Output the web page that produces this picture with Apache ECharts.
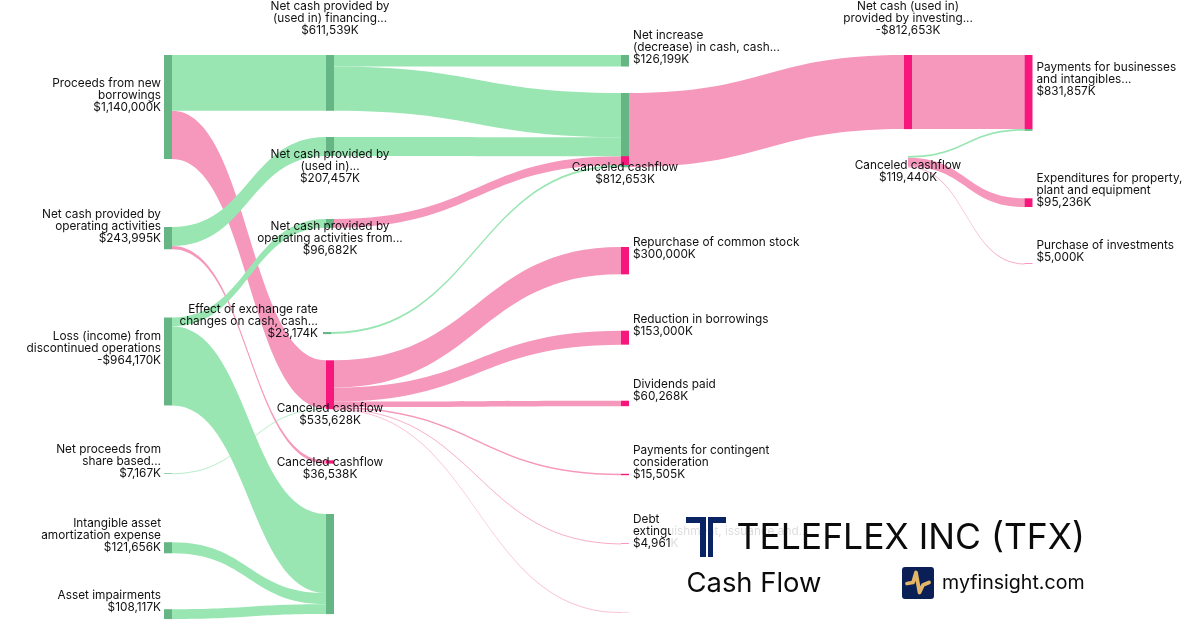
<!DOCTYPE html>
<html>
<head>
<meta charset="utf-8">
<style>html,body{margin:0;padding:0;background:#fff}#c{width:1200px;height:630px}</style>
<script src="https://cdn.jsdelivr.net/npm/echarts@6/dist/echarts.min.js"></script>
</head>
<body>
<div id="c"></div>
<script>
// --- data ---
const nodeIds = ['proceeds','operating','loss','share','intangible','impairments',
  'financing','usedIn','opFrom','effect','canceled535','canceled36','lossSink',
  'netIncrease','cashA','cashB','cashC','repurchase','reduction','dividends','contingent','debt','otherOut',
  'investing','canceled119',
  'payments','paymentsExtra','expenditures','purchase'];
const nodeNames = ['Proceeds from new\nborrowings','Net cash provided by\noperating activities','Loss (income) from\ndiscontinued operations','Net proceeds from\nshare based...','Intangible asset\namortization expense','Asset impairments',
  'Net cash provided by\n(used in) financing...','Net cash provided by\n(used in)...','Net cash provided by\noperating activities from...','Effect of exchange rate\nchanges on cash, cash...','Canceled cashflow','Canceled cashflow','',
  'Net increase\n(decrease) in cash, cash...','','Canceled cashflow','','Repurchase of common stock','Reduction in borrowings','Dividends paid','Payments for contingent\nconsideration','Debt\nextinguishment, issuance and...','',
  'Net cash (used in)\nprovided by investing...','Canceled cashflow',
  'Payments for businesses\nand intangibles...','','Expenditures for property,\nplant and equipment','Purchase of investments'];
const nodeValues = [1140000,243995,-964170,7167,121656,108117,
  611539,207457,96682,23174,535628,36538,null,
  126199,null,812653,null,300000,153000,60268,15505,4961,null,
  -812653,119440,
  831857,null,95236,5000];
const nodeColumns = [0,0,0,0,0,0, 1,1,1,1,1,1,1, 2,2,2,2,2,2,2,2,2,2, 3,3, 4,4,4,4];
const nodeKinds = ['g','g','g','g','g','g', 'g','g','g','g','p','p','g', 'g','g','p','g','p','p','p','p','p','p', 'p','n', 'p','g','p','p'];

const linkSources = ['proceeds','operating','opFrom','cashA','investing','canceled535','canceled535','canceled535','canceled535','canceled535','canceled535','canceled119','canceled119',
  'proceeds','operating','loss','share','loss','intangible','impairments','financing','financing','usedIn','effect','canceled119'];
const linkTargets = ['canceled535','canceled36','cashB','investing','payments','repurchase','reduction','dividends','contingent','debt','otherOut','expenditures','purchase',
  'financing','usedIn','opFrom','canceled535','lossSink','lossSink','lossSink','netIncrease','cashA','cashA','cashC','paymentsExtra'];
const linkValues = [528461,36538,96682,812653,812653,300000,153000,60268,15505,4961,1894,95236,5000,
  611539,207457,96682,7167,867488,121656,108117,126199,485340,207457,23174,19204];
const linkKinds = ['p','p','p','p','p','p','p','p','p','p','p','p','p',
  'g','g','g','g','g','g','g','g','g','g','g','g'];
const linkTints = [1,1,1,1,1,1,1,1,1,0.8,0.6,1,0.8,
  1,1,1,0.7,1,1,1,1,1,1,1,1];

// --- layout (pixels) ---
const chartLeft = 164, chartTop = 55, chartWidth = 868, chartHeight = 565;
const nodeLefts = [164,164,164,164,164,164, 326,326,326,323,326,326,326, 621,621,621,621,621,621,621,621,621,621, 904,900, 1024.5,1024.5,1024.5,1024.5];
const nodeTops = [55,227,317.5,473.2,542.2,609.2, 55,137,219,332,360.3,460.3,514, 55,93,156.2,165,247,330.7,400.7,473.8,543.4,612, 55,156, 55,129.1,198.3,263.4];
// label placement: side and nudges per node
const labelSides = ['l','l','l','l','l','l', 'a','b','b','l','b','b','-', 'r','-','b','-','r','r','r','r','r','-', 'a','b', 'r','-','r','r'];
const labelNudge = [0,0,-1,0,0,0, -19,-7,-7,0,-7,-7.5,0, -1,0,-4,0,1,1,0,0,0,0, -19,-7, -1,0,0,1];
const labelShift = [0,0,0,0,0,0, 0,0,0,-2,0,0,0, 0,0,0,0,0,0,0,0,0,0, 0,4, 0,0,0,0];

const palette = {
  g: {node:'#66B584', link:'#99E6B3'},
  p: {node:'#F7177C', link:'#F598BB'},
  n: {node:'rgba(0,0,0,0)', link:'#F598BB'}
};
const fmt = v => (v < 0 ? '-$' : '$') + Math.abs(v).toLocaleString('en-US') + 'K';

function labelFor(i) {
  const side = labelSides[i];
  if (side === '-') return {show:false};
  const text = nodeNames[i] + '\n' + fmt(nodeValues[i]);
  const lines = text.split('\n').length;
  const n = labelNudge[i] + ((side === 'l' || side === 'r') && lines === 2 ? -7 : 0);
  const dx = labelShift[i];
  const base = {show:true, formatter:text, fontFamily:'Inter', fontSize:11.8, lineHeight:12, color:'#111'};
  if (side === 'l') return Object.assign(base,{position:[0,'50%'], offset:[-3+dx,6+n], align:'right', verticalAlign:'bottom'});
  if (side === 'r') return Object.assign(base,{position:['100%','50%'], offset:[4,6+n], align:'left', verticalAlign:'bottom'});
  if (side === 'a') return Object.assign(base,{position:['50%',0], offset:[0,n], align:'center', verticalAlign:'bottom'});
  return Object.assign(base,{position:['50%','100%'], offset:[dx,n], align:'center', verticalAlign:'top'});
}

const nodes = nodeIds.map((id,i)=>({
  name:id,
  depth:nodeColumns[i],
  localX:(nodeLefts[i]-chartLeft)/chartWidth,
  localY:(nodeTops[i]-chartTop)/chartHeight,
  itemStyle:{color:palette[nodeKinds[i]].node, borderWidth:0, opacity:1},
  label:labelFor(i)
}));
const links = linkSources.map((s,i)=>({
  source:s, target:linkTargets[i], value:linkValues[i],
  lineStyle:{color:palette[linkKinds[i]].link, opacity:linkTints[i], curveness:0.5}
}));

const chart = echarts.init(document.getElementById('c'), null, {renderer:'canvas'});
const navy = '#0A2463', ink = '#0B0B0B';
chart.setOption({
  animation:false,
  backgroundColor:'#fff',
  series:[{
    type:'sankey',
    left:chartLeft, top:chartTop, width:chartWidth, height:chartHeight,
    nodeWidth:8, nodeGap:46.62, layoutIterations:0, nodeAlign:'left',
    draggable:false, silent:true,
    emphasis:{disabled:true},
    data:nodes, links:links
  }],
  graphic:[
    {type:'rect', z:100, silent:true, shape:{x:671,y:505,width:529,height:125}, style:{fill:'rgba(255,255,255,0.85)'}},
    {type:'polygon', z:101, silent:true, shape:{points:[[686,517],[706,517],[706,557],[700,557],[700,523],[686,523]]}, style:{fill:navy}},
    {type:'polygon', z:101, silent:true, shape:{points:[[726,517],[708,517],[708,557],[713,557],[713,523],[726,523]]}, style:{fill:navy}},
    {type:'text', z:101, silent:true, x:736.5, y:538, style:{text:'TELEFLEX INC (TFX)', font:'35.5px Inter', fill:ink, align:'left', verticalAlign:'middle'}},
    {type:'text', z:101, silent:true, x:686.5, y:584, style:{text:'Cash Flow', font:'27.4px Inter', fill:ink, align:'left', verticalAlign:'middle'}},
    {type:'rect', z:101, silent:true, shape:{x:902,y:567,width:32,height:32,r:3}, style:{fill:'#0A1F56'}},
    {type:'polyline', z:102, silent:true, shape:{points:[[907,583.5],[913,582.5],[916,572.5],[919.5,592.5],[923,585],[929,582.5]]}, style:{stroke:'#E5B567', lineWidth:3.8, fill:null, lineCap:'round', lineJoin:'round'}},
    {type:'text', z:101, silent:true, x:942, y:583, style:{text:'myfinsight.com', font:'19.6px Inter', fill:ink, align:'left', verticalAlign:'middle'}}
  ]
});
</script>
</body>
</html>
